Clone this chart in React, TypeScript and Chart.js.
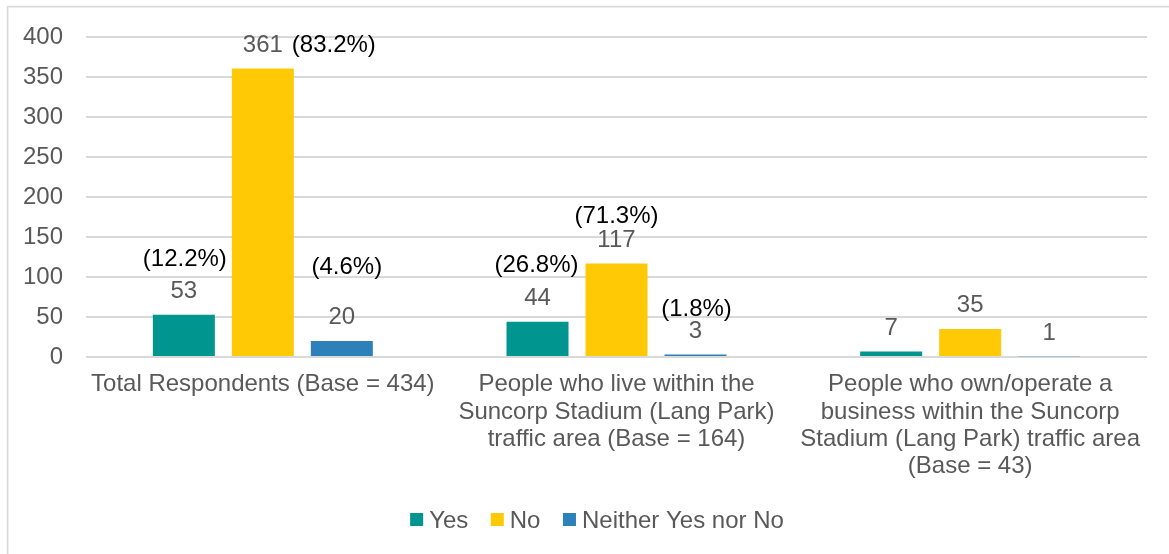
import React, { useEffect, useRef } from "react";
import { Chart, registerables } from "chart.js";

Chart.register(...registerables);

// ---- Data ----
const categories: string[][] = [
  ["Total Respondents (Base = 434)"],
  ["People who live within the", "Suncorp Stadium (Lang Park)", "traffic area (Base = 164)"],
  ["People who own/operate a", "business within the Suncorp", "Stadium (Lang Park) traffic area", "(Base = 43)"],
];
const seriesNames = ["Yes", "No", "Neither Yes nor No"];
const yesValues = [53, 44, 7];
const noValues = [361, 117, 35];
const neitherValues = [20, 3, 1];
const yesPct: (number | null)[] = [12.2, 26.8, null];
const noPct: (number | null)[] = [83.2, 71.3, null];
const neitherPct: (number | null)[] = [4.6, 1.8, null];
const yMin = 0;
const yMax = 400;
const yStep = 50;

// ---- Styles ----
const FONT = '"Liberation Sans", Arial, Helvetica, sans-serif';
const COLORS = ["#00968F", "#FFCA05", "#2E80BB"];
const GRID = "#d9d9d9";
const TEXT_GRAY = "#595959";

// percent label offsets relative to (bar centre, value-label baseline)
const pctOffsets: ({ dx: number; dy: number } | null)[][] = [
  [{ dx: 1, dy: -31.6 }, { dx: -1, dy: -33 }, null],
  [{ dx: 71, dy: 0 }, { dx: 0, dy: -24 }, null],
  [{ dx: 5, dy: -50 }, { dx: 1, dy: -22 }, null],
];

const borderPlugin = {
  id: "outerBorder",
  beforeDraw(chart: any) {
    const ctx = chart.ctx;
    ctx.save();
    ctx.strokeStyle = GRID;
    ctx.lineWidth = 1.6;
    ctx.beginPath();
    ctx.moveTo(7.6, chart.height + 5);
    ctx.lineTo(7.6, 6.6);
    ctx.lineTo(chart.width + 5, 6.6);
    ctx.stroke();
    ctx.restore();
  },
};

const labelsPlugin = {
  id: "barLabels",
  afterDatasetsDraw(chart: any) {
    const ctx = chart.ctx;
    const pcts = [yesPct, noPct, neitherPct];
    ctx.save();
    ctx.font = `24px ${FONT}`;
    ctx.textBaseline = "alphabetic";
    ctx.textAlign = "center";
    chart.data.datasets.forEach((ds: any, i: number) => {
      const meta = chart.getDatasetMeta(i);
      meta.data.forEach((bar: any, j: number) => {
        const baseY = bar.y - 16.7;
        ctx.fillStyle = TEXT_GRAY;
        ctx.fillText(String(ds.data[j]), bar.x, baseY);
        const p = pcts[i][j];
        const off = pctOffsets[i][j];
        if (p !== null && off) {
          ctx.fillStyle = "#000000";
          ctx.fillText(`(${p.toFixed(1)}%)`, bar.x + off.dx, baseY + off.dy);
        }
      });
    });
    ctx.restore();
  },
};

const legendPlugin = {
  id: "customLegend",
  afterDraw(chart: any) {
    const ctx = chart.ctx;
    ctx.save();
    ctx.font = `24px ${FONT}`;
    ctx.textBaseline = "alphabetic";
    ctx.textAlign = "left";
    const box = 13;
    const gap = 6;
    const itemGap = 22.5;
    const items = chart.data.datasets.map((d: any) => ({
      label: d.label,
      color: d.backgroundColor,
      w: ctx.measureText(d.label).width,
    }));
    const total =
      items.reduce((s: number, it: any) => s + box + gap + it.w, 0) + itemGap * (items.length - 1);
    let x = 597 - total / 2;
    const baseline = 528;
    items.forEach((it: any) => {
      ctx.fillStyle = it.color;
      ctx.fillRect(x, 513, box, box);
      ctx.fillStyle = TEXT_GRAY;
      ctx.fillText(it.label, x + box + gap, baseline);
      x += box + gap + it.w + itemGap;
    });
    ctx.restore();
  },
};

export default function App() {
  const ref = useRef<HTMLCanvasElement | null>(null);
  useEffect(() => {
    if (!ref.current) return;
    const chart = new Chart(ref.current, {
      type: "bar",
      data: {
        labels: categories,
        datasets: [
          { label: seriesNames[0], data: yesValues, backgroundColor: COLORS[0] },
          { label: seriesNames[1], data: noValues, backgroundColor: COLORS[1] },
          { label: seriesNames[2], data: neitherValues, backgroundColor: COLORS[2] },
        ],
      },
      options: {
        animation: false,
        responsive: false,
        devicePixelRatio: 1,
        layout: { padding: { top: 37, right: 22, bottom: 0, left: 0 } },
        datasets: {
          bar: { categoryPercentage: 0.67, barPercentage: 0.785 },
        },
        plugins: {
          legend: { display: false },
          tooltip: { enabled: false },
        },
        scales: {
          x: {
            grid: { display: false, drawTicks: false },
            border: { display: false },
            ticks: {
              color: TEXT_GRAY,
              font: { family: FONT, size: 24, lineHeight: 1.14 },
              padding: 14,
              maxRotation: 0,
              autoSkip: false,
            },
            afterFit(scale: any) {
              scale.height = 197;
            },
          },
          y: {
            min: yMin,
            max: yMax,
            grid: { color: GRID, lineWidth: 2, drawTicks: false },
            border: { display: false },
            ticks: {
              stepSize: yStep,
              color: TEXT_GRAY,
              font: { family: FONT, size: 24 },
              padding: 23,
            },
            afterFit(scale: any) {
              scale.width = 86;
            },
          },
        },
      },
      plugins: [borderPlugin, labelsPlugin, legendPlugin],
    });
    return () => chart.destroy();
  }, []);
  return (
    <div style={{ position: "fixed", left: 0, top: 0, width: 1169, height: 554, background: "#fff" }}>
      <canvas ref={ref} width={1169} height={554} style={{ width: 1169, height: 554, display: "block" }} />
    </div>
  );
}
